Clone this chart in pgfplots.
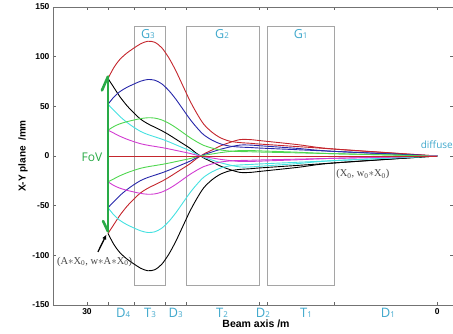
\documentclass[border=0pt]{standalone}
\usepackage{pgfplots}
\pgfplotsset{compat=1.18}
\usepackage{pgfplotstable}
\usepackage{fontspec}
\setmainfont{Liberation Serif}
\setsansfont{Liberation Sans}
\newfontfamily\labfont{Open Sans}
\usetikzlibrary{arrows.meta}
\definecolor{cred}{RGB}{196,38,45}
\definecolor{cblue}{RGB}{40,40,170}
\definecolor{cgreen}{RGB}{80,215,80}
\definecolor{ccyan}{RGB}{70,225,225}
\definecolor{cmag}{RGB}{210,60,210}
\definecolor{cbox}{RGB}{165,165,165}
\definecolor{clab}{RGB}{64,168,204}
\definecolor{cfov}{RGB}{40,170,70}
\definecolor{cnote}{RGB}{70,70,70}

% z (m), ray heights (mm); A = first-plane rays, B = second-plane rays, n = mirrored
\pgfplotstableread{
z    fA78   fA52   fA26   fB78   fB52   fB26   nA78    nA52   nA26   nB78  nB52  nB26
28.2 78     52     26     78     52     26     -78     -52    -26    -78   -52   -26
27.7 89     59.33  29.67  69     46     23     -89     -59.33 -29.67 -69   -46   -23
27.2 97     64.67  32.33  60     40     20     -97     -64.67 -32.33 -60   -40   -20
26.6 103.5  69     34.5   51     34     17     -103.5  -69    -34.5  -51   -34   -17
26.0 108.5  72.33  36.17  43.5   29     14.5   -108.5  -72.33 -36.17 -43.5 -29   -14.5
25.4 113    75.33  37.67  37     24.67  12.33  -113    -75.33 -37.67 -37   -24.67 -12.33
24.8 115.5  77     38.5   32.5   21.67  10.83  -115.5  -77    -38.5  -32.5 -21.67 -10.83
24.2 114.5  76.33  38.17  29     19.33  9.67   -114.5  -76.33 -38.17 -29   -19.33 -9.67
23.6 109    72.67  36.33  25.5   17     8.5    -109    -72.67 -36.33 -25.5 -17   -8.5
23.0 99     66     33     21.5   14.33  7.17   -99     -66    -33    -21.5 -14.33 -7.17
22.4 86     57.33  28.67  17     11.33  5.67   -86     -57.33 -28.67 -17   -11.33 -5.67
21.8 71     47.33  23.67  12.5   8.33   4.17   -71     -47.33 -23.67 -12.5 -8.33 -4.17
21.2 56     37.33  18.67  8      5.33   2.67   -56     -37.33 -18.67 -8    -5.33 -2.67
20.6 43     28.67  14.33  2.5    1.67   0.83   -43     -28.67 -14.33 -2.5  -1.67 -0.83
20.0 32     21.33  10.67  -2     -1.33  -0.67  -32     -21.33 -10.67 2     1.33  0.67
19.3 24     16     8      -6     -4     -2     -24     -16    -8     6     4     2
18.6 18.5   12.33  6.17   -10    -6.67  -3.33  -18.5   -12.33 -6.17  10    6.67  3.33
17.8 15     10     5      -13.5  -9     -4.5   -15     -10    -5     13.5  9     4.5
16.9 13.5   9      4.5    -16.5  -11    -5.5   -13.5   -9     -4.5   16.5  11    5.5
16.0 12.8   8.53   4.27   -16.5  -11    -5.5   -12.8   -8.53  -4.27  16.5  11    5.5
15.2 12     8      4      -15.5  -10.33 -5.17  -12     -8     -4     15.5  10.33 5.17
12.0 9.5    6.33   3.17   -11.5  -7.67  -3.83  -9.5    -6.33  -3.17  11.5  7.67  3.83
8.85 7      4.67   2.33   -7     -4.67  -2.33  -7      -4.67  -2.33  7     4.67  2.33
0    0      0      0      0      0      0      0       0      0      0     0     0
}\rays

\newcommand{\sub}[2]{#1{\fontsize{8}{8}\selectfont #2}}

\begin{document}
\begin{tikzpicture}
\begin{axis}[
  at={(0,0)}, anchor=south west,
  scale only axis, width=400pt, height=298pt,
  x dir=reverse, xmin=-1.34, xmax=32.91,
  ymin=-150, ymax=150,
  xtick={0,8.85,14.53,15.27,21.52,23.32,25.98,28.2,30},
  xticklabels={0,,,,,,,,30},
  ytick={-150,-100,...,150},
  tick style={black!60, line width=0.4pt},
  major tick length=3pt,
  axis line style={draw=none},
  clip=false,
  tick label style={font=\sffamily\bfseries\fontsize{8.5}{9}\selectfont},
  /pgf/number format/assume math mode=true,
  every axis plot/.append style={line width=0.9pt, smooth, tension=0.5},
]
% spines (left, top, bottom)
\draw[black!55, line width=0.5pt] (axis description cs:1,0) -- (axis description cs:0,0)
   -- (axis description cs:0,1) -- (axis description cs:1,1);
% lens boxes
\draw[cbox, line width=0.7pt] (axis cs:25.98,-130) rectangle (axis cs:23.32,131);
\draw[cbox, line width=0.7pt] (axis cs:21.52,-130) rectangle (axis cs:15.27,131);
\draw[cbox, line width=0.7pt] (axis cs:14.53,-130) rectangle (axis cs:8.85,131);

% rays
\addplot[cred]     table[x=z, y=fA78] {\rays};
\addplot[cred]     table[x=z, y=nB78] {\rays};
\addplot[black]    table[x=z, y=fB78] {\rays};
\addplot[black]    table[x=z, y=nA78] {\rays};
\addplot[cblue]    table[x=z, y=fA52] {\rays};
\addplot[cblue]    table[x=z, y=nB52] {\rays};
\addplot[ccyan]    table[x=z, y=fB52] {\rays};
\addplot[ccyan]    table[x=z, y=nA52] {\rays};
\addplot[cgreen]   table[x=z, y=fA26] {\rays};
\addplot[cgreen]   table[x=z, y=nB26] {\rays};
\addplot[cmag]     table[x=z, y=fB26] {\rays};
\addplot[cmag]     table[x=z, y=nA26] {\rays};
\addplot[cred, sharp plot] coordinates {(28.2,0) (0,0)};

% FoV arrow
\draw[cfov, line width=2.6pt] (axis cs:28.2,-76) -- (axis cs:28.2,80);
\draw[cfov, line width=2.6pt, line cap=round] (axis cs:28.2,80) -- (axis cs:28.72,66);
\draw[cfov, line width=2.6pt, line cap=round] (axis cs:28.2,-76) -- (axis cs:28.62,-65.5);
\node[cfov, font=\labfont\fontsize{12}{12}\selectfont] at (axis cs:29.57,-1) {FoV};
% pointer arrow
\draw[black, line width=1.3pt, -{Latex[length=5pt,width=4.5pt]}] (axis cs:29.06,-96.5) -- (axis cs:28.33,-79);

% annotations
\node[cnote, font=\fontsize{10.5}{10.5}\selectfont] at (axis cs:29.35,-106.5)
  {(A$\ast$X\textsubscript{0}, w$\ast$A$\ast$X\textsubscript{0})};
\node[cnote, font=\fontsize{10.5}{10.5}\selectfont, anchor=west] at (axis cs:8.95,-18)
  {(X\textsubscript{0}, w\textsubscript{0}$\ast$X\textsubscript{0})};
\node[clab, font=\labfont\fontsize{10}{10}\selectfont, anchor=east, inner sep=0pt] at (axis cs:-1.34,11) {diffuse};

% lens labels
\node[clab, font=\labfont\fontsize{12.5}{12.5}\selectfont] at (axis cs:24.78,123) {\sub{G}{3}};
\node[clab, font=\labfont\fontsize{12.5}{12.5}\selectfont] at (axis cs:18.44,123) {\sub{G}{2}};
\node[clab, font=\labfont\fontsize{12.5}{12.5}\selectfont] at (axis cs:11.7,123) {\sub{G}{1}};

% section labels below axis
\tikzset{seclab/.style={clab, font=\labfont\fontsize{13}{13}\selectfont, inner sep=0pt}}
\node[seclab] at (axis cs:26.9,-158) {\sub{D}{4}};
\node[seclab] at (axis cs:24.6,-158) {\sub{T}{3}};
\node[seclab] at (axis cs:22.4,-158) {\sub{D}{3}};
\node[seclab] at (axis cs:18.44,-158) {\sub{T}{2}};
\node[seclab] at (axis cs:14.93,-158) {\sub{D}{2}};
\node[seclab] at (axis cs:11.25,-158) {\sub{T}{1}};
\node[seclab] at (axis cs:4.23,-158) {\sub{D}{1}};

% axis titles
\node[font=\sffamily\bfseries\fontsize{10.5}{11}\selectfont, inner sep=0pt] at (axis description cs:0.5075,-0.064) {Beam axis /m};
\node[font=\sffamily\bfseries\fontsize{10}{11}\selectfont, rotate=90, inner sep=0pt] at (axis description cs:-0.075,0.5) {X-Y plane\ \ /mm};
\end{axis}
\pgfresetboundingbox
\path (-53pt,-28pt) rectangle (400pt,305pt);
\end{tikzpicture}
\end{document}
